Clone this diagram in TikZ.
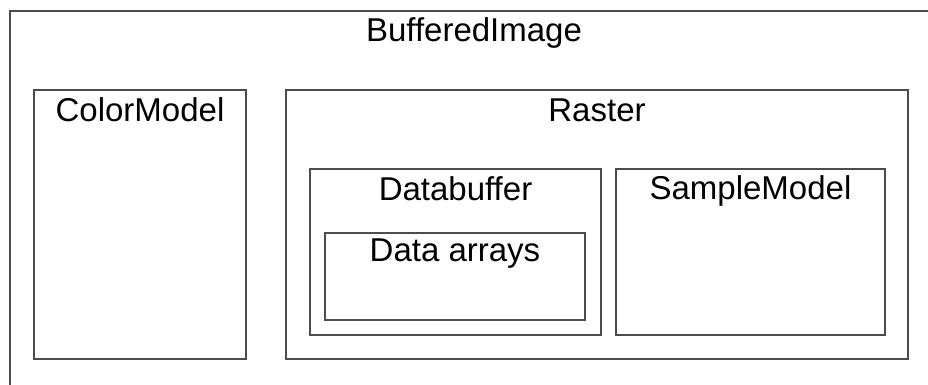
\documentclass[tikz,border=0pt]{standalone}
\usepackage{fontspec}
\setmainfont{Liberation Sans}
\usetikzlibrary{positioning}

\begin{document}
\begin{tikzpicture}[
    x=1pt, y=-1pt,
    every node/.style={font=\fontsize{33}{39}\selectfont},
    box/.style={draw=black!70, line width=1.6pt, inner sep=0pt},
    title/.style={anchor=base}
]
    % Frame
    \useasboundingbox (0,0) rectangle (928,385);
    \clip (0,0) rectangle (928,385);

    % Outer box (runs off the page to the right and bottom)
    \node[box, minimum width=960pt, minimum height=420pt] (image) at (490,221) {};
    \node[title] (imagetitle) at ([yshift=-31pt]474,11) {BufferedImage};

    % Color model
    \node[box, minimum width=212pt, minimum height=269pt] (colormodel) at (140,224.5) {};
    \node[title] at ([yshift=-32pt]colormodel.north) {ColorModel};

    % Raster and its parts
    \node[box, minimum width=622pt, minimum height=269pt] (raster) at (597,224.5) {};
    \node[title] at ([yshift=-32pt]raster.north) {Raster};

    \node[box, minimum width=291pt, minimum height=166pt] (databuffer) at (455.5,252) {};
    \node[title] at ([yshift=-32pt]databuffer.north) {Databuffer};

    \node[box, minimum width=260pt, minimum height=87pt] (dataarrays) at (455,276.5) {};
    \node[title] at ([yshift=-29pt]dataarrays.north) {Data arrays};

    \node[box, minimum width=269pt, minimum height=166pt] (samplemodel) at (750.5,252) {};
    \node[title] at ([yshift=-31pt]samplemodel.north) {SampleModel};
\end{tikzpicture}
\end{document}
